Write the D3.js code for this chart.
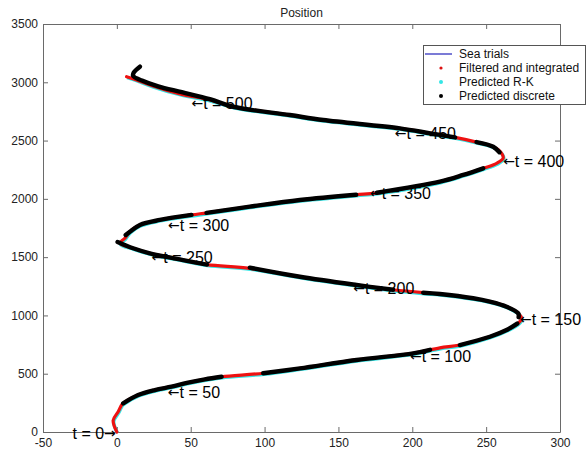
<!DOCTYPE html>
<html>
<head>
<meta charset="utf-8">
<script src="https://cdn.jsdelivr.net/npm/d3@7"></script>
<style>
  html, body { margin: 0; padding: 0; background: #fff; }
  svg { display: block; }
  text { font-family: "Liberation Sans", Arial, sans-serif; }
</style>
</head>
<body>
<svg id="chart" width="586" height="453"></svg>
<script>
// ---- data ----
const titleText = "Position";
const xTicks = [-50, 0, 50, 100, 150, 200, 250, 300];
const yTicks = [0, 500, 1000, 1500, 2000, 2500, 3000, 3500];
const legendLabels = ["Sea trials", "Filtered and integrated", "Predicted R-K", "Predicted discrete"];

// measured trajectory (sea trials / filtered)
const seaX = [0, -2.5, 0.9, 3.2, 4.3, 14.4, 25.7, 37, 48.2, 59.6, 70.9, 99.1, 124, 162.3, 200.6, 218.7, 232.2, 252.5, 263.8, 271.7, 274,
  271.7, 263.8, 252.5, 241.2, 218.7, 207.4, 187, 162.3, 123.9, 90, 61, 44.9, 22.3, 11, 2,
  5.4, 8.8, 15.6, 29.1, 50.5, 60.7, 90, 123.9, 162, 176, 218.7, 234.5, 248, 257.1, 261.5,
  260.5, 254.8, 243.5, 229, 212.2, 191.6, 139.7, 117.1, 78.7, 63, 42.7, 24.4, 13.3, 6.6];
const seaY = [0, 100, 174, 232, 246, 317, 360, 389, 423, 452, 474, 504, 546, 618, 675, 722, 746, 817, 875, 932, 975,
  1018, 1075, 1118, 1147, 1184, 1195, 1220, 1261, 1332, 1404, 1436, 1475, 1533, 1576, 1619,
  1662, 1718, 1776, 1819, 1862, 1880, 1933, 1990, 2035, 2052, 2147, 2205, 2262, 2305, 2348,
  2391, 2447, 2487, 2527, 2562, 2605, 2676, 2719, 2790, 2848, 2900, 2968, 3020, 3048];
const filteredX = seaX;
const filteredY = seaY;
const rkX = seaX;
const rkY = seaY;

// predicted discrete: piecewise segments (null = restart of prediction)
const discreteX = [4.3, 14.4, 25.7, 37, 48.2, 59.6, 70.9, null,
  99.1, 124, 162.3, 200.6, 212, null,
  232.2, 252.5, 263.8, 271, null,
  272, 271.7, 263.8, 252.5, 241.2, 218.7, 207.4, null,
  187, 162.3, 123.9, 90, null,
  61, 44.9, 22.3, 11, 0.5, null,
  6, 8.8, 15.6, 29.1, 50.5, null,
  60.7, 90, 123.9, 162, null,
  176, 218.7, 234.5, 248, null,
  259, 254.8, 243.5, null,
  229, 212.2, 191.6, 139.7, 117.1, 78.7, 63, 44, 28, 17, 11, 11.5, 15.6];
const discreteY = [246, 317, 360, 389, 423, 452, 474, null,
  504, 546, 618, 675, 705, null,
  746, 817, 875, 930, null,
  985, 1018, 1075, 1118, 1147, 1184, 1195, null,
  1220, 1261, 1332, 1410, null,
  1436, 1475, 1533, 1576, 1630, null,
  1690, 1718, 1776, 1819, 1862, null,
  1880, 1933, 1990, 2035, null,
  2052, 2147, 2205, 2262, null,
  2400, 2447, 2487, null,
  2527, 2562, 2605, 2676, 2719, 2790, 2855, 2915, 2965, 3015, 3055, 3085, 3134];

// time annotations (data point the arrow refers to)
const annotT = [50, 100, 150, 200, 250, 300, 350, 400, 450, 500];
const annotX = [34.5, 198.4, 272.9, 160, 23.5, 34.7, 171.3, 261.5, 188.2, 50.5];
const annotY = [343, 652, 971, 1233, 1504, 1776, 2048, 2327, 2562, 2820];
const startLabel = "t = 0";
const startX = 0, startY = 0;

// ---- drawing ----
(function () {
const svg = d3.select("#chart");
const W = 586, H = 453;
const mLeft = 43, mRight = 560, mTop = 24, mBottom = 432;

const x = d3.scaleLinear().domain([-50, 300]).range([mLeft, mRight]);
const y = d3.scaleLinear().domain([0, 3500]).range([mBottom, mTop]);

svg.append("rect").attr("width", W).attr("height", H).attr("fill", "#fff");

// title
svg.append("text").attr("x", (mLeft + mRight) / 2).attr("y", 13)
  .attr("text-anchor", "middle").attr("dominant-baseline", "central")
  .attr("font-size", 12).attr("fill", "#222").text(titleText);

const frameColor = "#6a6a6a";
const plain = d => String(d);
function styleAxis(g) {
  g.selectAll(".domain").attr("stroke", frameColor);
  g.selectAll(".tick line").attr("stroke", frameColor);
  g.selectAll(".tick text").attr("fill", "#222").attr("font-size", 12)
    .attr("font-family", '"Liberation Sans", Arial, sans-serif');
}
svg.append("g").attr("transform", `translate(0,${mBottom})`)
  .call(d3.axisBottom(x).tickValues(xTicks).tickFormat(plain).tickSizeInner(-5).tickSizeOuter(0).tickPadding(6))
  .call(styleAxis);
svg.append("g").attr("transform", `translate(${mLeft},0)`)
  .call(d3.axisLeft(y).tickValues(yTicks).tickFormat(plain).tickSizeInner(-5).tickSizeOuter(0).tickPadding(5))
  .call(styleAxis);
svg.append("g").attr("transform", `translate(0,${mTop})`)
  .call(d3.axisTop(x).tickValues(xTicks).tickSizeInner(-5).tickSizeOuter(0).tickFormat(""))
  .call(styleAxis);
svg.append("g").attr("transform", `translate(${mRight},0)`)
  .call(d3.axisRight(y).tickValues(yTicks).tickSizeInner(-5).tickSizeOuter(0).tickFormat(""))
  .call(styleAxis);

const zip = (xs, ys) => xs.map((v, i) => [v, ys[i]]);
const line = d3.line()
  .defined(d => d[0] !== null && d[1] !== null)
  .x(d => x(d[0])).y(d => y(d[1]))
  .curve(d3.curveCatmullRom.alpha(0.5));

const plot = svg.append("g");
plot.append("path").attr("d", line(zip(seaX, seaY)))
  .attr("fill", "none").attr("stroke", "#2222bb").attr("stroke-width", 1.2);
plot.append("path").attr("d", line(zip(rkX, rkY)))
  .attr("fill", "none").attr("stroke", "#33e6e6").attr("stroke-width", 3.4)
  .attr("transform", "translate(0.6,1)");
plot.append("path").attr("d", line(zip(filteredX, filteredY)))
  .attr("fill", "none").attr("stroke", "#ee1111").attr("stroke-width", 3.2)
  .attr("stroke-linecap", "round");
plot.append("path").attr("d", line(zip(discreteX, discreteY)))
  .attr("fill", "none").attr("stroke", "#000").attr("stroke-width", 4.4)
  .attr("stroke-linecap", "round").attr("stroke-linejoin", "round");

// annotations
const ann = svg.append("g").attr("font-size", 16).attr("fill", "#000");
annotT.forEach((t, i) => {
  const tx = ann.append("text")
    .attr("x", x(annotX[i])).attr("y", y(annotY[i]))
    .attr("dominant-baseline", "central");
  tx.append("tspan").attr("font-family", '"DejaVu Sans", sans-serif').attr("font-size", 14).text("\u2190");
  tx.append("tspan").text("t = " + t);
});
const st = ann.append("text").attr("x", x(startX) - 1).attr("y", y(startY) + 1)
  .attr("text-anchor", "end").attr("dominant-baseline", "central");
st.append("tspan").text(startLabel);
st.append("tspan").attr("font-family", '"DejaVu Sans", sans-serif').attr("font-size", 14).text("\u2192");

// legend
const lg = svg.append("g");
lg.append("rect").attr("x", 423.5).attr("y", 45.5).attr("width", 162).attr("height", 59)
  .attr("fill", "#fff").attr("stroke", "#555").attr("stroke-width", 1);
const rowY = [54, 68, 82, 96];
lg.append("line").attr("x1", 425).attr("x2", 452).attr("y1", rowY[0]).attr("y2", rowY[0])
  .attr("stroke", "#2222bb").attr("stroke-width", 1.2);
lg.append("circle").attr("cx", 441).attr("cy", rowY[1]).attr("r", 1.6).attr("fill", "#dd1111");
lg.append("circle").attr("cx", 441).attr("cy", rowY[2]).attr("r", 2).attr("fill", "#33e6e6");
lg.append("circle").attr("cx", 441).attr("cy", rowY[3]).attr("r", 2).attr("fill", "#000");
legendLabels.forEach((s, i) => {
  lg.append("text").attr("x", 459).attr("y", rowY[i]).attr("dominant-baseline", "central")
    .attr("font-size", 12).attr("fill", "#111").text(s);
});
})();
</script>
</body>
</html>
